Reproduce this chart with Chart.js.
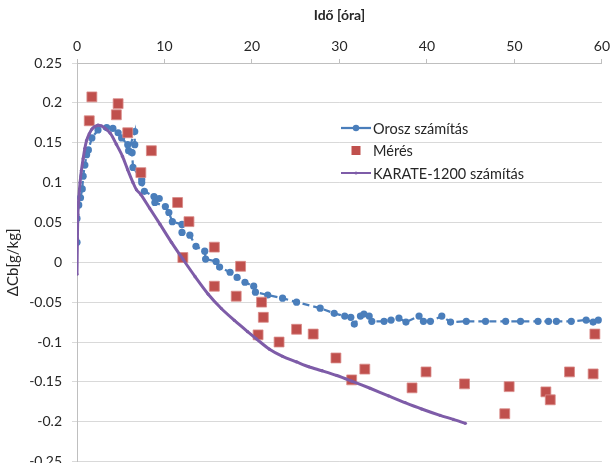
<!DOCTYPE html>
<html>
<head>
<meta charset="utf-8">
<script src="https://cdn.jsdelivr.net/npm/chart.js@4/dist/chart.umd.min.js"></script>
<style>
  html, body { margin: 0; padding: 0; background: #fff; overflow: hidden; }
  #wrap { width: 614px; height: 463px; overflow: hidden; }
</style>
</head>
<body>
<div id="wrap"><canvas id="myChart" width="614" height="480"></canvas></div>
<script>
// data
const oroszX = [0, 0, 0.2, 0.4, 0.6, 0.7, 0.9, 1.1, 1.3, 1.7, 2.4, 3.4, 4.1, 4.7, 5.1, 5.8, 5.9, 6.6, 6.6, 6.3, 6.4, 7.4, 7.4, 7.7,
  8.8, 9.4, 8.9, 10.1, 10.5, 10.9, 12.0, 12.0, 12.9, 13.6, 14.6, 14.7, 15.9, 16.3, 17.5, 18.3, 19.2, 20.2, 20.4, 21.8,
  23.5, 25.1, 27.8, 29.4, 30.6, 31.3, 31.7, 32.4, 32.8, 33.4, 33.7, 35.1, 35.9, 36.8, 37.6, 39.1, 39.6, 40.4, 41.7,
  42.7, 44.5, 46.7, 49.0, 50.7, 52.7, 53.9, 54.8, 56.5, 58.2, 59.0, 59.6];
const oroszY = [0.025, 0.055, 0.072, 0.081, 0.092, 0.108, 0.122, 0.135, 0.141, 0.156, 0.166, 0.169, 0.168, 0.1625, 0.156, 0.1475, 0.14, 0.164, 0.1475, 0.1375, 0.119, 0.104, 0.1, 0.089,
  0.0825, 0.08, 0.075, 0.07, 0.0625, 0.051, 0.0475, 0.0375, 0.034, 0.02, 0.014, 0.004, 0.001, -0.006, -0.0125, -0.019, -0.025, -0.03, -0.0375, -0.041,
  -0.045, -0.05, -0.0575, -0.064, -0.0675, -0.069, -0.0775, -0.0675, -0.065, -0.0675, -0.074, -0.074, -0.0725, -0.07, -0.075, -0.0675, -0.074, -0.074, -0.0675,
  -0.075, -0.074, -0.074, -0.074, -0.074, -0.074, -0.074, -0.074, -0.074, -0.0725, -0.075, -0.0725];

const meresX = [1.4, 1.7, 4.5, 4.7, 5.8, 7.3, 8.5, 11.5, 12.1, 12.8, 15.7, 15.7, 18.2, 18.7, 20.7, 21.1, 21.3, 23.1, 25.1, 27.0,
  29.6, 31.4, 32.9, 38.3, 39.9, 44.3, 48.9, 49.4, 53.6, 54.1, 56.3, 59.0, 59.2];
const meresY = [0.1775, 0.2075, 0.185, 0.199, 0.1625, 0.1125, 0.14, 0.075, 0.006, 0.051, 0.019, -0.03, -0.0425, -0.005, -0.091, -0.05, -0.069, -0.1, -0.084, -0.09,
  -0.12, -0.1475, -0.134, -0.1575, -0.1375, -0.1525, -0.19, -0.156, -0.1625, -0.1725, -0.1375, -0.14, -0.09];

const karateX = [0, 0.05, 0.1, 0.2, 0.35, 0.5, 0.7, 0.9, 1.1, 1.4, 1.7, 2.0, 2.4, 2.8, 3.2, 3.8, 4.5, 5.2, 5.8, 6.4, 6.8, 7.3, 8.3,
  9.5, 10.8, 12.1, 13.5, 15.0, 16.5, 18.0, 19.5, 20.5, 22.0, 23.5, 25.1, 26.5, 28.0, 29.7, 31.4, 33.5, 35.6, 37.5, 39.4, 41.5, 43.0, 44.4];
const karateY = [-0.015, 0.03, 0.06, 0.08, 0.1, 0.115, 0.13, 0.143, 0.153, 0.161, 0.167, 0.17, 0.172, 0.171, 0.168, 0.162, 0.148, 0.133, 0.116, 0.1, 0.091, 0.085, 0.068,
  0.0475, 0.025, 0.004, -0.018, -0.04, -0.058, -0.073, -0.087, -0.096, -0.109, -0.118, -0.125, -0.131, -0.136, -0.142, -0.149, -0.158, -0.1675, -0.176, -0.184, -0.192, -0.197, -0.202];

const xTicks = [0, 10, 20, 30, 40, 50, 60];
const yTicks = [-0.25, -0.2, -0.15, -0.1, -0.05, 0, 0.05, 0.1, 0.15, 0.2, 0.25];

function pts(xs, ys) {
  return xs.map((x, i) => ({ x: x, y: ys[i] }));
}

const FONT = 'Lato, "Open Sans", sans-serif';
const TXT = '#262626';
const BLUE = '#4a7ebb';
const RED = '#c0504d';
const PURPLE = '#7e5ca8';

// legend drawn inside the plot, like the original
const insideLegend = {
  id: 'insideLegend',
  afterDraw(chart) {
    const ctx = chart.ctx;
    const order = [2, 1, 0];
    const x0 = 341, y0 = 128, rowH = 22.5;
    ctx.save();
    ctx.font = '14.5px ' + FONT;
    ctx.textBaseline = 'middle';
    order.forEach((di, row) => {
      const ds = chart.data.datasets[di];
      const y = y0 + row * rowH;
      const cx = x0 + 15;
      if (ds.showLine) {
        ctx.strokeStyle = ds.borderColor;
        ctx.lineWidth = di === 2 ? 2.25 : 2;
        ctx.beginPath();
        ctx.moveTo(x0, y);
        ctx.lineTo(x0 + 30, y);
        ctx.stroke();
        ctx.fillStyle = ds.pointBackgroundColor;
        ctx.beginPath();
        ctx.arc(cx, y, di === 2 ? 3.2 : 1.5, 0, Math.PI * 2);
        ctx.fill();
      } else {
        ctx.fillStyle = ds.pointBackgroundColor;
        ctx.fillRect(cx - 4.5, y - 4.5, 9, 9);
      }
      ctx.fillStyle = TXT;
      ctx.fillText(ds.label, x0 + 32, y + 1);
    });
    ctx.restore();
  }
};

const ctx = document.getElementById('myChart').getContext('2d');
const myChart = new Chart(ctx, {
  type: 'scatter',
  data: {
    datasets: [
      {
        label: 'KARATE-1200 számítás',
        data: pts(karateX, karateY),
        showLine: true,
        borderColor: PURPLE,
        backgroundColor: PURPLE,
        pointBackgroundColor: PURPLE,
        pointBorderColor: PURPLE,
        borderWidth: 3,
        pointRadius: 1.6,
        pointBorderWidth: 0,
        tension: 0.3,
        order: 1
      },
      {
        label: 'Mérés',
        data: pts(meresX, meresY),
        showLine: false,
        borderColor: RED,
        backgroundColor: RED,
        pointBackgroundColor: RED,
        pointBorderColor: '#d98a88',
        pointBorderWidth: 0.8,
        pointStyle: 'rect',
        pointRadius: 7,
        order: 2
      },
      {
        label: 'Orosz számítás',
        data: pts(oroszX, oroszY),
        showLine: true,
        borderColor: BLUE,
        backgroundColor: BLUE,
        pointBackgroundColor: BLUE,
        pointBorderColor: BLUE,
        borderWidth: 2.25,
        borderDash: [7, 4],
        pointRadius: 3.6,
        pointBorderWidth: 0,
        order: 3
      }
    ]
  },
  options: {
    responsive: false,
    animation: false,
    layout: { padding: { left: 0, right: 10, top: 0, bottom: 17 } },
    plugins: {
      legend: { display: false },
      tooltip: { enabled: false }
    },
    scales: {
      x: {
        type: 'linear',
        position: 'top',
        min: 0,
        max: 60,
        afterBuildTicks: (scale) => { scale.ticks = xTicks.map(v => ({ value: v })); },
        afterFit: (scale) => { scale.height = 63; },
        grid: { drawOnChartArea: false, drawTicks: true, tickLength: 4, color: '#bfbfbf' },
        border: { color: '#bfbfbf' },
        ticks: { color: TXT, font: { family: FONT, size: 14 }, padding: 4, maxRotation: 0 },
        title: {
          display: true,
          text: 'Idő [óra]',
          color: TXT,
          font: { family: FONT, size: 14, weight: 'bold' },
          padding: { top: 7, bottom: 0 }
        }
      },
      y: {
        type: 'linear',
        min: -0.25,
        max: 0.25,
        afterBuildTicks: (scale) => { scale.ticks = yTicks.map(v => ({ value: v })); },
        afterFit: (scale) => { scale.width = 77; },
        grid: { color: '#d9d9d9', tickLength: 5, lineWidth: 1 },
        border: { color: '#bfbfbf' },
        ticks: {
          color: TXT,
          font: { family: FONT, size: 14 },
          padding: 10,
          callback: (v) => {
            const r = Math.round(v * 100) / 100;
            return r === 0 ? '0' : String(r);
          }
        },
        title: {
          display: true,
          text: 'ΔCb[g/kg]',
          color: TXT,
          font: { family: FONT, size: 15 },
          padding: { top: 4, bottom: 0 }
        }
      }
    }
  },
  plugins: [insideLegend]
});
</script>
</body>
</html>
